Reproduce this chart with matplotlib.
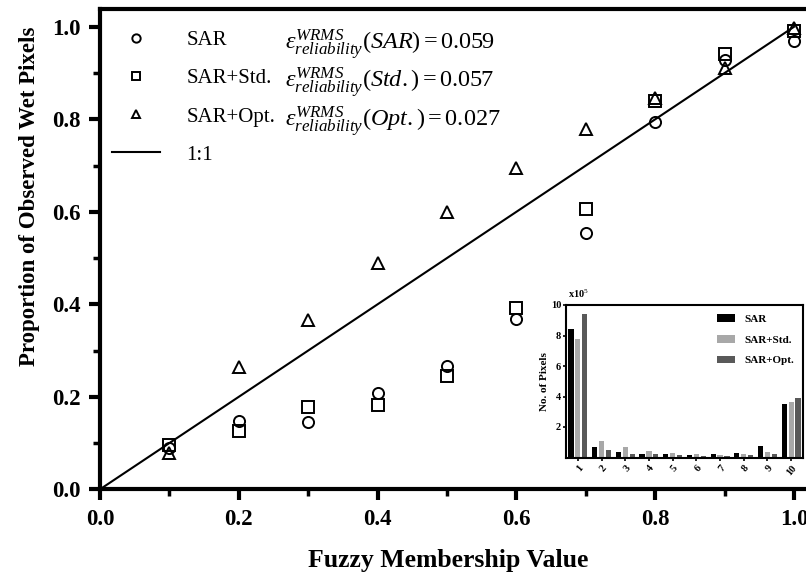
import matplotlib
matplotlib.use("Agg")
import matplotlib.pyplot as plt
from matplotlib.ticker import MultipleLocator, FormatStrFormatter
from matplotlib.transforms import IdentityTransform
import numpy as np

plt.rcParams["font.family"] = ["Liberation Serif", "DejaVu Serif"]
plt.rcParams["mathtext.fontset"] = "custom"
plt.rcParams["mathtext.rm"] = "Liberation Serif"
plt.rcParams["mathtext.it"] = "Liberation Serif:italic"
plt.rcParams["mathtext.bf"] = "Liberation Serif:bold"

# dados do gráfico principal (confiabilidade)
membership = [0.1, 0.2, 0.3, 0.4, 0.5, 0.6, 0.7, 0.8, 0.9, 1.0]
prop_sar = [0.090, 0.148, 0.146, 0.208, 0.267, 0.368, 0.555, 0.795, 0.928, 0.970]
prop_std = [0.096, 0.126, 0.179, 0.182, 0.245, 0.393, 0.605, 0.840, 0.941, 0.992]
prop_opt = [0.078, 0.264, 0.366, 0.489, 0.600, 0.694, 0.778, 0.847, 0.910, 0.997]

series_names = ["SAR", "SAR+Std.", "SAR+Opt."]
eps_labels = [r"$\varepsilon^{WRMS}_{reliability}(\mathit{SAR}) = 0.059$",
              r"$\varepsilon^{WRMS}_{reliability}(\mathit{Std.}) = 0.057$",
              r"$\varepsilon^{WRMS}_{reliability}(\mathit{Opt.}) = 0.027$"]

# histograma (x10^5 pixels)
bins = [1, 2, 3, 4, 5, 6, 7, 8, 9, 10]
hist_sar = [8.45, 0.70, 0.37, 0.26, 0.20, 0.15, 0.20, 0.30, 0.74, 3.48]
hist_std = [7.80, 1.07, 0.70, 0.43, 0.30, 0.20, 0.15, 0.22, 0.39, 3.65]
hist_opt = [9.40, 0.48, 0.26, 0.20, 0.15, 0.13, 0.12, 0.15, 0.20, 3.89]

W, H = 806, 585
fig = plt.figure(figsize=(W / 100, H / 100), dpi=100)

x0, x1 = 100, 794          # pixels de x=0 e x=1
y0, y1 = 489.3, 26.8       # pixels de y=0 e y=1
xmax = 1.03
ymax = (y0 - 9) / (y0 - y1)
ax_w = xmax * (x1 - x0) / W
ax_h = ymax * (y0 - y1) / H
ax = fig.add_axes([x0 / W, (H - y0) / H, ax_w, ax_h])

ax.plot([0, 1], [0, 1], color="black", lw=1.5, zorder=2)
mk = dict(ls="none", mfc="none", mec="black", mew=1.4, ms=8, zorder=3)
h1, = ax.plot(membership, prop_sar, marker="o", **mk)
h2, = ax.plot(membership, prop_std, marker="s", **mk)
h3, = ax.plot(membership, prop_opt, marker="^", **mk)
hl = ax.get_lines()[0]

ax.set_xlim(0, xmax)
ax.set_ylim(0, ymax)
ax.xaxis.set_major_locator(MultipleLocator(0.2))
ax.xaxis.set_minor_locator(MultipleLocator(0.1))
ax.yaxis.set_major_locator(MultipleLocator(0.2))
ax.yaxis.set_minor_locator(MultipleLocator(0.1))
ax.xaxis.set_major_formatter(FormatStrFormatter("%.1f"))
ax.yaxis.set_major_formatter(FormatStrFormatter("%.1f"))
for s in ax.spines.values():
    s.set_linewidth(3)
ax.tick_params(which="major", direction="out", length=8, width=3,
               labelsize=16.5, pad=6)
ax.tick_params(which="minor", direction="out", length=5, width=2.5)
for lab in ax.get_xticklabels() + ax.get_yticklabels():
    lab.set_fontweight("bold")
ax.set_xlabel("Fuzzy Membership Value", fontsize=18.5, fontweight="bold")
ax.set_ylabel("Proportion of Observed Wet Pixels", fontsize=16.5,
              fontweight="bold")
ax_wpx = ax_w * W
ax_hpx = ax_h * H
ax.xaxis.set_label_coords((448 - x0) / ax_wpx, -(560 - y0) / ax_hpx)
ax.yaxis.set_label_coords((30 - x0) / ax_wpx, (y0 - 196) / ax_hpx)
ax.xaxis.label.set_va("center")
ax.yaxis.label.set_va("center")

leg = ax.legend([h1, h2, h3, hl], series_names + ["1:1"], loc="upper left",
                frameon=False, fontsize=15, handlelength=2.3,
                handletextpad=1.3, labelspacing=0.89, markerscale=0.75,
                bbox_to_anchor=(-0.014, 1.0), borderaxespad=0.64)

# texto do erro, alinhado com as linhas da legenda
fig.canvas.draw()
renderer = fig.canvas.get_renderer()
for t, eps in zip(leg.get_texts()[:3], eps_labels):
    bb = t.get_window_extent(renderer)
    _, _, d = renderer.get_text_width_height_descent(
        "SAR", t.get_fontproperties(), ismath=False)
    fig.text(285, bb.y0 + d, eps, fontsize=17.5, va="baseline",
             transform=IdentityTransform())

# --- inset: histograma ---
il, ir, ib, it = 566, 803, 457.5, 305
ax2 = fig.add_axes([il / W, (H - ib) / H, (ir - il) / W, (ib - it) / H])
xb = np.array(bins)
bw = 0.22
ax2.bar(xb - 0.29, hist_sar, width=bw, color="black", label="SAR")
ax2.bar(xb, hist_std, width=bw, color="#a8a8a8", label="SAR+Std.")
ax2.bar(xb + 0.29, hist_opt, width=bw, color="#595959", label="SAR+Opt.")
ax2.set_xlim(0.5, 10.5)
ax2.set_ylim(0, 10)
ax2.set_yticks([2, 4, 6, 8, 10])
ax2.set_xticks(bins)
ax2.set_xticklabels([str(b) for b in bins], rotation=50, ha="right",
                    rotation_mode="anchor")
for s in ax2.spines.values():
    s.set_linewidth(1.5)
ax2.tick_params(axis="y", direction="out", length=2.5, width=1.2,
                labelsize=7.5, pad=1)
ax2.tick_params(axis="x", direction="out", length=2.5, width=1.2,
                labelsize=7.5, pad=2)
for lab in ax2.get_xticklabels() + ax2.get_yticklabels():
    lab.set_fontweight("bold")
ax2.set_ylabel("No. of Pixels", fontsize=8, fontweight="bold", labelpad=1)
ax2.text(0.01, 1.03, r"x10$^5$", transform=ax2.transAxes, fontsize=7.5,
         fontweight="bold", ha="left", va="bottom")
ax2.legend(loc="upper right", frameon=False, handlelength=1.7,
           handleheight=0.7, labelspacing=1.0, handletextpad=0.8,
           borderaxespad=0.4, prop={"weight": "bold", "size": 8})

fig.savefig("out.png", dpi=100)
